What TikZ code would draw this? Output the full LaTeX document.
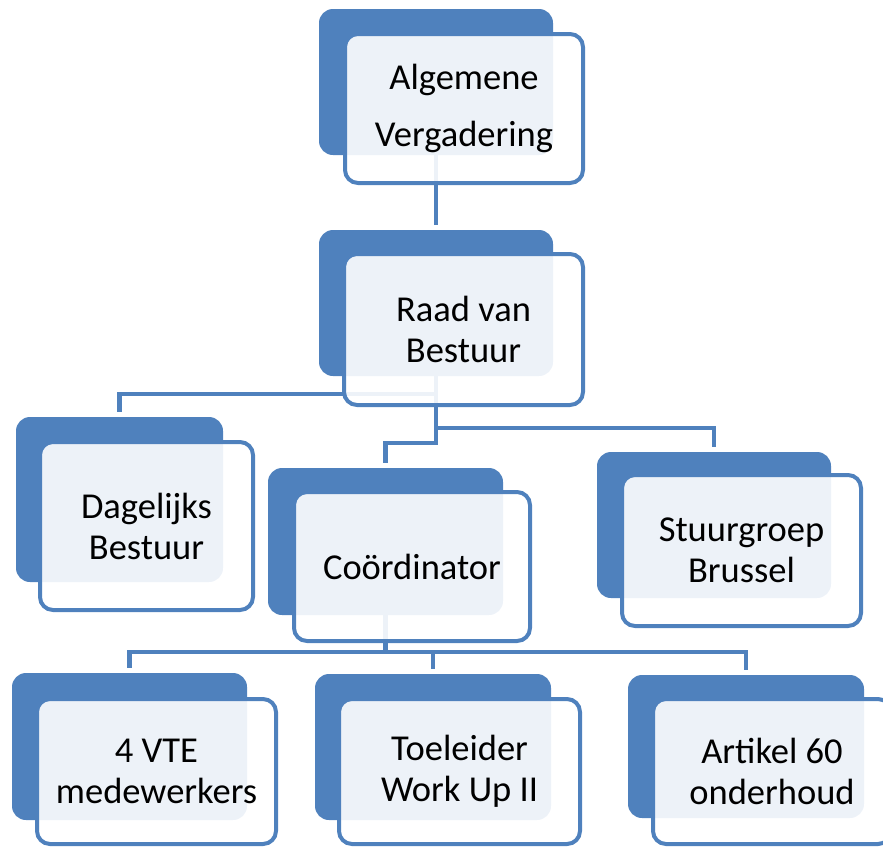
\documentclass[tikz,border=0pt]{standalone}
\usepackage{fontspec}
\setmainfont{Carlito}
\usetikzlibrary{calc}
\definecolor{accent}{HTML}{4F81BD}
\pgfdeclarelayer{bg}
\pgfsetlayers{bg,main}
\begin{document}
\begin{tikzpicture}[x=1pt,y=-1pt,
  backbox/.style={fill=accent, draw=none, rounded corners=14pt, inner sep=0pt},
  frontbox/.style={draw=accent, line width=4pt, fill=white, fill opacity=0.9, text opacity=1,
    rounded corners=13pt, inner sep=0pt, align=center, text=black,
    font=\fontsize{36.5}{41}\selectfont},
  wideline/.style={font=\fontsize{36.5}{57}\selectfont},
  link/.style={draw=accent, line width=4.5pt, shorten >=5pt}]
\useasboundingbox (0,0) rectangle (883,846);

% Algemene Vergadering
\node[backbox, minimum width=234, minimum height=146] (aB) at (436,82) {};
\node[frontbox, wideline, minimum width=238, minimum height=149] (a) at (464,108.5) {Algemene\\Vergadering};
% Raad van Bestuur
\node[backbox, minimum width=234, minimum height=146] (bB) at (436,303) {};
\node[frontbox, minimum width=239, minimum height=151] (b) at (463.5,329.5) {Raad van\\Bestuur};
% Dagelijks Bestuur
\node[backbox, minimum width=207, minimum height=165] (cB) at (119.5,499.5) {};
\node[frontbox, minimum width=213, minimum height=168] (c) at (146.5,526) {Dagelijks\\Bestuur};
% Coordinator
\node[backbox, minimum width=235, minimum height=147] (dB) at (385.5,541.5) {};
\node[frontbox, minimum width=236, minimum height=149] (d) at (412,566.5) {Coördinator};
% Stuurgroep Brussel
\node[backbox, minimum width=234, minimum height=146] (eB) at (714,525) {};
\node[frontbox, minimum width=239, minimum height=151] (e) at (741.5,550.5) {Stuurgroep\\Brussel};
% 4 VTE medewerkers
\node[backbox, minimum width=235, minimum height=147] (fB) at (129.5,746.5) {};
\node[frontbox, minimum width=239, minimum height=145] (f) at (156.5,771.5) {4 VTE\\medewerkers};
% Toeleider Work Up II
\node[backbox, minimum width=236, minimum height=146] (gB) at (433,747) {};
\node[frontbox, minimum width=241, minimum height=145] (g) at (459.5,771.5) {Toeleider\\Work Up II};
% Artikel 60 onderhoud
\node[backbox, minimum width=236, minimum height=143] (hB) at (746,746.5) {};
\node[frontbox, minimum width=238, minimum height=145] (h) at (772,771.5) {Artikel 60\\onderhoud};

\begin{pgfonlayer}{bg}
\coordinate (j1) at (0,394);
\coordinate (j2) at (0,428);
\coordinate (j3) at (0,443);
\coordinate (j4) at (0,652);
\draw[link] (aB.center) -- (bB.north);
\draw[link] (bB.center) -- (bB.center |- j1) -| (cB.north);
\draw[link] (bB.center) -- (bB.center |- j2) -| (eB.north);
\draw[link] (bB.center) -- (bB.center |- j3) -| (dB.north);
\draw[link] (dB.center) -- (dB.center |- j4) -| (fB.north);
\draw[link] (dB.center) -- (dB.center |- j4) -| (gB.north);
\draw[link] (dB.center) -- (dB.center |- j4) -| (hB.north);
\end{pgfonlayer}
\end{tikzpicture}
\end{document}
